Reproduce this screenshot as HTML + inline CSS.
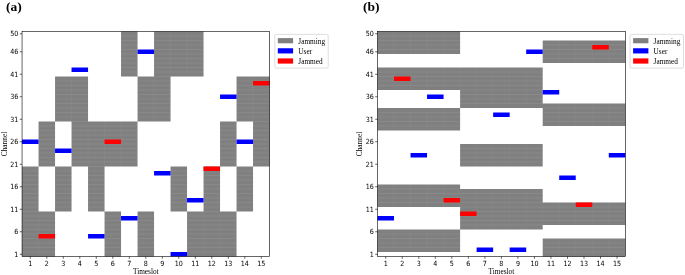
<!DOCTYPE html>
<html lang="en"><head><meta charset="utf-8"><title>Jamming patterns</title>
<style>html,body{margin:0;padding:0;background:#fff}body{width:685px;height:275px;overflow:hidden}svg{display:block}.t{font-family:"DejaVu Sans","Liberation Sans",sans-serif;font-stretch:condensed;font-size:7.1px;fill:#000}.s{font-family:"Liberation Serif","DejaVu Serif",serif;font-size:7.3px;fill:#000}.g{font-family:"Liberation Serif","DejaVu Serif",serif;font-size:7.3px;fill:#000}.h{font-family:"Liberation Serif","DejaVu Serif",serif;font-size:13.5px;font-weight:bold;fill:#000}</style></head><body>
<svg width="685" height="275" viewBox="0 0 685 275">
<rect width="685" height="275" fill="#fff"/>
<g>
<text class="h" x="6" y="10.6">(a)</text>
<path fill="#808080" d="M22.05 166.5H38.55V256.5H22.05ZM38.55 211.5H55.05V256.5H38.55ZM38.55 121.5H55.05V166.5H38.55ZM55.05 166.5H71.55V211.5H55.05ZM55.05 76.5H71.55V121.5H55.05ZM71.55 76.5H88.05V166.5H71.55ZM88.05 121.5H104.55V211.5H88.05ZM104.55 211.5H121.05V256.5H104.55ZM104.55 121.5H121.05V166.5H104.55ZM121.05 121.5H137.55V166.5H121.05ZM121.05 31.5H137.55V76.5H121.05ZM137.55 211.5H154.05V256.5H137.55ZM137.55 76.5H154.05V121.5H137.55ZM154.05 31.5H170.55V121.5H154.05ZM170.55 166.5H187.05V211.5H170.55ZM170.55 31.5H187.05V76.5H170.55ZM187.05 211.5H203.55V256.5H187.05ZM187.05 31.5H203.55V76.5H187.05ZM203.55 166.5H220.05V256.5H203.55ZM220.05 211.5H236.55V256.5H220.05ZM220.05 121.5H236.55V166.5H220.05ZM236.55 166.5H253.05V211.5H236.55ZM236.55 76.5H253.05V121.5H236.55ZM253.05 76.5H269.55V166.5H253.05Z"/>
<path fill="none" stroke="#fff" stroke-opacity="0.11" stroke-width="0.7" d="M22.05 252H38.55M22.05 247.5H38.55M22.05 243H38.55M22.05 238.5H38.55M22.05 234H38.55M22.05 229.5H38.55M22.05 225H38.55M22.05 220.5H38.55M22.05 216H38.55M22.05 211.5H38.55M22.05 207H38.55M22.05 202.5H38.55M22.05 198H38.55M22.05 193.5H38.55M22.05 189H38.55M22.05 184.5H38.55M22.05 180H38.55M22.05 175.5H38.55M22.05 171H38.55M38.55 252H55.05M38.55 247.5H55.05M38.55 243H55.05M38.55 238.5H55.05M38.55 234H55.05M38.55 229.5H55.05M38.55 225H55.05M38.55 220.5H55.05M38.55 216H55.05M38.55 162H55.05M38.55 157.5H55.05M38.55 153H55.05M38.55 148.5H55.05M38.55 144H55.05M38.55 139.5H55.05M38.55 135H55.05M38.55 130.5H55.05M38.55 126H55.05M55.05 207H71.55M55.05 202.5H71.55M55.05 198H71.55M55.05 193.5H71.55M55.05 189H71.55M55.05 184.5H71.55M55.05 180H71.55M55.05 175.5H71.55M55.05 171H71.55M55.05 117H71.55M55.05 112.5H71.55M55.05 108H71.55M55.05 103.5H71.55M55.05 99H71.55M55.05 94.5H71.55M55.05 90H71.55M55.05 85.5H71.55M55.05 81H71.55M71.55 162H88.05M71.55 157.5H88.05M71.55 153H88.05M71.55 148.5H88.05M71.55 144H88.05M71.55 139.5H88.05M71.55 135H88.05M71.55 130.5H88.05M71.55 126H88.05M71.55 121.5H88.05M71.55 117H88.05M71.55 112.5H88.05M71.55 108H88.05M71.55 103.5H88.05M71.55 99H88.05M71.55 94.5H88.05M71.55 90H88.05M71.55 85.5H88.05M71.55 81H88.05M88.05 207H104.55M88.05 202.5H104.55M88.05 198H104.55M88.05 193.5H104.55M88.05 189H104.55M88.05 184.5H104.55M88.05 180H104.55M88.05 175.5H104.55M88.05 171H104.55M88.05 166.5H104.55M88.05 162H104.55M88.05 157.5H104.55M88.05 153H104.55M88.05 148.5H104.55M88.05 144H104.55M88.05 139.5H104.55M88.05 135H104.55M88.05 130.5H104.55M88.05 126H104.55M104.55 252H121.05M104.55 247.5H121.05M104.55 243H121.05M104.55 238.5H121.05M104.55 234H121.05M104.55 229.5H121.05M104.55 225H121.05M104.55 220.5H121.05M104.55 216H121.05M104.55 162H121.05M104.55 157.5H121.05M104.55 153H121.05M104.55 148.5H121.05M104.55 144H121.05M104.55 139.5H121.05M104.55 135H121.05M104.55 130.5H121.05M104.55 126H121.05M121.05 162H137.55M121.05 157.5H137.55M121.05 153H137.55M121.05 148.5H137.55M121.05 144H137.55M121.05 139.5H137.55M121.05 135H137.55M121.05 130.5H137.55M121.05 126H137.55M121.05 72H137.55M121.05 67.5H137.55M121.05 63H137.55M121.05 58.5H137.55M121.05 54H137.55M121.05 49.5H137.55M121.05 45H137.55M121.05 40.5H137.55M121.05 36H137.55M137.55 252H154.05M137.55 247.5H154.05M137.55 243H154.05M137.55 238.5H154.05M137.55 234H154.05M137.55 229.5H154.05M137.55 225H154.05M137.55 220.5H154.05M137.55 216H154.05M137.55 117H154.05M137.55 112.5H154.05M137.55 108H154.05M137.55 103.5H154.05M137.55 99H154.05M137.55 94.5H154.05M137.55 90H154.05M137.55 85.5H154.05M137.55 81H154.05M154.05 117H170.55M154.05 112.5H170.55M154.05 108H170.55M154.05 103.5H170.55M154.05 99H170.55M154.05 94.5H170.55M154.05 90H170.55M154.05 85.5H170.55M154.05 81H170.55M154.05 76.5H170.55M154.05 72H170.55M154.05 67.5H170.55M154.05 63H170.55M154.05 58.5H170.55M154.05 54H170.55M154.05 49.5H170.55M154.05 45H170.55M154.05 40.5H170.55M154.05 36H170.55M170.55 207H187.05M170.55 202.5H187.05M170.55 198H187.05M170.55 193.5H187.05M170.55 189H187.05M170.55 184.5H187.05M170.55 180H187.05M170.55 175.5H187.05M170.55 171H187.05M170.55 72H187.05M170.55 67.5H187.05M170.55 63H187.05M170.55 58.5H187.05M170.55 54H187.05M170.55 49.5H187.05M170.55 45H187.05M170.55 40.5H187.05M170.55 36H187.05M187.05 252H203.55M187.05 247.5H203.55M187.05 243H203.55M187.05 238.5H203.55M187.05 234H203.55M187.05 229.5H203.55M187.05 225H203.55M187.05 220.5H203.55M187.05 216H203.55M187.05 72H203.55M187.05 67.5H203.55M187.05 63H203.55M187.05 58.5H203.55M187.05 54H203.55M187.05 49.5H203.55M187.05 45H203.55M187.05 40.5H203.55M187.05 36H203.55M203.55 252H220.05M203.55 247.5H220.05M203.55 243H220.05M203.55 238.5H220.05M203.55 234H220.05M203.55 229.5H220.05M203.55 225H220.05M203.55 220.5H220.05M203.55 216H220.05M203.55 211.5H220.05M203.55 207H220.05M203.55 202.5H220.05M203.55 198H220.05M203.55 193.5H220.05M203.55 189H220.05M203.55 184.5H220.05M203.55 180H220.05M203.55 175.5H220.05M203.55 171H220.05M220.05 252H236.55M220.05 247.5H236.55M220.05 243H236.55M220.05 238.5H236.55M220.05 234H236.55M220.05 229.5H236.55M220.05 225H236.55M220.05 220.5H236.55M220.05 216H236.55M220.05 162H236.55M220.05 157.5H236.55M220.05 153H236.55M220.05 148.5H236.55M220.05 144H236.55M220.05 139.5H236.55M220.05 135H236.55M220.05 130.5H236.55M220.05 126H236.55M236.55 207H253.05M236.55 202.5H253.05M236.55 198H253.05M236.55 193.5H253.05M236.55 189H253.05M236.55 184.5H253.05M236.55 180H253.05M236.55 175.5H253.05M236.55 171H253.05M236.55 117H253.05M236.55 112.5H253.05M236.55 108H253.05M236.55 103.5H253.05M236.55 99H253.05M236.55 94.5H253.05M236.55 90H253.05M236.55 85.5H253.05M236.55 81H253.05M253.05 162H269.55M253.05 157.5H269.55M253.05 153H269.55M253.05 148.5H269.55M253.05 144H269.55M253.05 139.5H269.55M253.05 135H269.55M253.05 130.5H269.55M253.05 126H269.55M253.05 121.5H269.55M253.05 117H269.55M253.05 112.5H269.55M253.05 108H269.55M253.05 103.5H269.55M253.05 99H269.55M253.05 94.5H269.55M253.05 90H269.55M253.05 85.5H269.55M253.05 81H269.55"/>
<path fill="none" stroke="#fff" stroke-opacity="0.05" stroke-width="0.7" d="M38.55 211.5V256.5M71.55 76.5V121.5M88.05 121.5V166.5M104.55 121.5V166.5M121.05 121.5V166.5M154.05 76.5V121.5M170.55 31.5V76.5M187.05 31.5V76.5M203.55 211.5V256.5M220.05 211.5V256.5M253.05 76.5V121.5"/>
<rect x="22.05" y="139.5" width="16.5" height="4.5" fill="#0000ff"/>
<rect x="38.55" y="234" width="16.5" height="4.5" fill="#ff0000"/>
<rect x="55.05" y="148.5" width="16.5" height="4.5" fill="#0000ff"/>
<rect x="71.55" y="67.5" width="16.5" height="4.5" fill="#0000ff"/>
<rect x="88.05" y="234" width="16.5" height="4.5" fill="#0000ff"/>
<rect x="104.55" y="139.5" width="16.5" height="4.5" fill="#ff0000"/>
<rect x="121.05" y="216" width="16.5" height="4.5" fill="#0000ff"/>
<rect x="137.55" y="49.5" width="16.5" height="4.5" fill="#0000ff"/>
<rect x="154.05" y="171" width="16.5" height="4.5" fill="#0000ff"/>
<rect x="170.55" y="252" width="16.5" height="4.5" fill="#0000ff"/>
<rect x="187.05" y="198" width="16.5" height="4.5" fill="#0000ff"/>
<rect x="203.55" y="166.5" width="16.5" height="4.5" fill="#ff0000"/>
<rect x="220.05" y="94.5" width="16.5" height="4.5" fill="#0000ff"/>
<rect x="236.55" y="139.5" width="16.5" height="4.5" fill="#0000ff"/>
<rect x="253.05" y="81" width="16.5" height="4.5" fill="#ff0000"/>
<rect x="22.05" y="31.5" width="247.5" height="225" fill="none" stroke="#000" stroke-width="0.6"/>
<path d="M30.3 256.5v2.3M46.8 256.5v2.3M63.3 256.5v2.3M79.8 256.5v2.3M96.3 256.5v2.3M112.8 256.5v2.3M129.3 256.5v2.3M145.8 256.5v2.3M162.3 256.5v2.3M178.8 256.5v2.3M195.3 256.5v2.3M211.8 256.5v2.3M228.3 256.5v2.3M244.8 256.5v2.3M261.3 256.5v2.3M22.05 254.25h-2.3M22.05 231.75h-2.3M22.05 209.25h-2.3M22.05 186.75h-2.3M22.05 164.25h-2.3M22.05 141.75h-2.3M22.05 119.25h-2.3M22.05 96.75h-2.3M22.05 74.25h-2.3M22.05 51.75h-2.3M22.05 33.75h-2.3" stroke="#000" stroke-width="0.6" fill="none"/>
<g class="t" text-anchor="middle">
<text x="30.3" y="266.1">1</text>
<text x="46.8" y="266.1">2</text>
<text x="63.3" y="266.1">3</text>
<text x="79.8" y="266.1">4</text>
<text x="96.3" y="266.1">5</text>
<text x="112.8" y="266.1">6</text>
<text x="129.3" y="266.1">7</text>
<text x="145.8" y="266.1">8</text>
<text x="162.3" y="266.1">9</text>
<text x="178.8" y="266.1">10</text>
<text x="195.3" y="266.1">11</text>
<text x="211.8" y="266.1">12</text>
<text x="228.3" y="266.1">13</text>
<text x="244.8" y="266.1">14</text>
<text x="261.3" y="266.1">15</text>
</g>
<g class="t" text-anchor="end">
<text x="18.35" y="256.9">1</text>
<text x="18.35" y="234.4">6</text>
<text x="18.35" y="211.9">11</text>
<text x="18.35" y="189.4">16</text>
<text x="18.35" y="166.9">21</text>
<text x="18.35" y="144.4">26</text>
<text x="18.35" y="121.9">31</text>
<text x="18.35" y="99.4">36</text>
<text x="18.35" y="76.9">41</text>
<text x="18.35" y="54.4">46</text>
<text x="18.35" y="36.4">50</text>
</g>
<text class="s" text-anchor="middle" x="145.8" y="274.2">Timeslot</text>
<text class="s" text-anchor="middle" transform="translate(6.75 144) rotate(-90)">Channel</text>
<rect x="274.8" y="34.4" width="53.4" height="33.7" rx="1.5" ry="1.5" fill="#fff" stroke="#ccc" stroke-width="0.65"/>
<rect x="277.8" y="38.1" width="15.3" height="5.2" fill="#808080"/>
<text class="g" x="298.3" y="43.6">Jamming</text>
<rect x="277.8" y="48.25" width="15.3" height="5.2" fill="#0000ff"/>
<text class="g" x="298.3" y="53.75">User</text>
<rect x="277.8" y="58.4" width="15.3" height="5.2" fill="#ff0000"/>
<text class="g" x="298.3" y="63.9">Jammed</text>
</g>
<g>
<text class="h" x="363" y="10.6">(b)</text>
<path fill="#808080" d="M377.5 31.5H394.02V54H377.5ZM377.5 67.5H394.02V90H377.5ZM377.5 108H394.02V130.5H377.5ZM377.5 184.5H394.02V207H377.5ZM377.5 229.5H394.02V252H377.5ZM394.02 31.5H410.54V54H394.02ZM394.02 67.5H410.54V90H394.02ZM394.02 108H410.54V130.5H394.02ZM394.02 184.5H410.54V207H394.02ZM394.02 229.5H410.54V252H394.02ZM410.54 31.5H427.06V54H410.54ZM410.54 67.5H427.06V90H410.54ZM410.54 108H427.06V130.5H410.54ZM410.54 184.5H427.06V207H410.54ZM410.54 229.5H427.06V252H410.54ZM427.06 31.5H443.58V54H427.06ZM427.06 67.5H443.58V90H427.06ZM427.06 108H443.58V130.5H427.06ZM427.06 184.5H443.58V207H427.06ZM427.06 229.5H443.58V252H427.06ZM443.58 31.5H460.1V54H443.58ZM443.58 67.5H460.1V90H443.58ZM443.58 108H460.1V130.5H443.58ZM443.58 184.5H460.1V207H443.58ZM443.58 229.5H460.1V252H443.58ZM460.1 67.5H476.62V108H460.1ZM460.1 144H476.62V166.5H460.1ZM460.1 189H476.62V229.5H460.1ZM476.62 67.5H493.14V108H476.62ZM476.62 144H493.14V166.5H476.62ZM476.62 189H493.14V229.5H476.62ZM493.14 67.5H509.66V108H493.14ZM493.14 144H509.66V166.5H493.14ZM493.14 189H509.66V229.5H493.14ZM509.66 67.5H526.18V108H509.66ZM509.66 144H526.18V166.5H509.66ZM509.66 189H526.18V229.5H509.66ZM526.18 67.5H542.7V108H526.18ZM526.18 144H542.7V166.5H526.18ZM526.18 189H542.7V229.5H526.18ZM542.7 40.5H559.22V63H542.7ZM542.7 103.5H559.22V126H542.7ZM542.7 202.5H559.22V225H542.7ZM542.7 238.5H559.22V256.5H542.7ZM559.22 40.5H575.74V63H559.22ZM559.22 103.5H575.74V126H559.22ZM559.22 202.5H575.74V225H559.22ZM559.22 238.5H575.74V256.5H559.22ZM575.74 40.5H592.26V63H575.74ZM575.74 103.5H592.26V126H575.74ZM575.74 202.5H592.26V225H575.74ZM575.74 238.5H592.26V256.5H575.74ZM592.26 40.5H608.78V63H592.26ZM592.26 103.5H608.78V126H592.26ZM592.26 202.5H608.78V225H592.26ZM592.26 238.5H608.78V256.5H592.26ZM608.78 40.5H625.3V63H608.78ZM608.78 103.5H625.3V126H608.78ZM608.78 202.5H625.3V225H608.78ZM608.78 238.5H625.3V256.5H608.78Z"/>
<path fill="none" stroke="#fff" stroke-opacity="0.11" stroke-width="0.7" d="M377.5 49.5H394.02M377.5 45H394.02M377.5 40.5H394.02M377.5 36H394.02M377.5 85.5H394.02M377.5 81H394.02M377.5 76.5H394.02M377.5 72H394.02M377.5 126H394.02M377.5 121.5H394.02M377.5 117H394.02M377.5 112.5H394.02M377.5 202.5H394.02M377.5 198H394.02M377.5 193.5H394.02M377.5 189H394.02M377.5 247.5H394.02M377.5 243H394.02M377.5 238.5H394.02M377.5 234H394.02M394.02 49.5H410.54M394.02 45H410.54M394.02 40.5H410.54M394.02 36H410.54M394.02 85.5H410.54M394.02 81H410.54M394.02 76.5H410.54M394.02 72H410.54M394.02 126H410.54M394.02 121.5H410.54M394.02 117H410.54M394.02 112.5H410.54M394.02 202.5H410.54M394.02 198H410.54M394.02 193.5H410.54M394.02 189H410.54M394.02 247.5H410.54M394.02 243H410.54M394.02 238.5H410.54M394.02 234H410.54M410.54 49.5H427.06M410.54 45H427.06M410.54 40.5H427.06M410.54 36H427.06M410.54 85.5H427.06M410.54 81H427.06M410.54 76.5H427.06M410.54 72H427.06M410.54 126H427.06M410.54 121.5H427.06M410.54 117H427.06M410.54 112.5H427.06M410.54 202.5H427.06M410.54 198H427.06M410.54 193.5H427.06M410.54 189H427.06M410.54 247.5H427.06M410.54 243H427.06M410.54 238.5H427.06M410.54 234H427.06M427.06 49.5H443.58M427.06 45H443.58M427.06 40.5H443.58M427.06 36H443.58M427.06 85.5H443.58M427.06 81H443.58M427.06 76.5H443.58M427.06 72H443.58M427.06 126H443.58M427.06 121.5H443.58M427.06 117H443.58M427.06 112.5H443.58M427.06 202.5H443.58M427.06 198H443.58M427.06 193.5H443.58M427.06 189H443.58M427.06 247.5H443.58M427.06 243H443.58M427.06 238.5H443.58M427.06 234H443.58M443.58 49.5H460.1M443.58 45H460.1M443.58 40.5H460.1M443.58 36H460.1M443.58 85.5H460.1M443.58 81H460.1M443.58 76.5H460.1M443.58 72H460.1M443.58 126H460.1M443.58 121.5H460.1M443.58 117H460.1M443.58 112.5H460.1M443.58 202.5H460.1M443.58 198H460.1M443.58 193.5H460.1M443.58 189H460.1M443.58 247.5H460.1M443.58 243H460.1M443.58 238.5H460.1M443.58 234H460.1M460.1 103.5H476.62M460.1 99H476.62M460.1 94.5H476.62M460.1 90H476.62M460.1 85.5H476.62M460.1 81H476.62M460.1 76.5H476.62M460.1 72H476.62M460.1 162H476.62M460.1 157.5H476.62M460.1 153H476.62M460.1 148.5H476.62M460.1 225H476.62M460.1 220.5H476.62M460.1 216H476.62M460.1 211.5H476.62M460.1 207H476.62M460.1 202.5H476.62M460.1 198H476.62M460.1 193.5H476.62M476.62 103.5H493.14M476.62 99H493.14M476.62 94.5H493.14M476.62 90H493.14M476.62 85.5H493.14M476.62 81H493.14M476.62 76.5H493.14M476.62 72H493.14M476.62 162H493.14M476.62 157.5H493.14M476.62 153H493.14M476.62 148.5H493.14M476.62 225H493.14M476.62 220.5H493.14M476.62 216H493.14M476.62 211.5H493.14M476.62 207H493.14M476.62 202.5H493.14M476.62 198H493.14M476.62 193.5H493.14M493.14 103.5H509.66M493.14 99H509.66M493.14 94.5H509.66M493.14 90H509.66M493.14 85.5H509.66M493.14 81H509.66M493.14 76.5H509.66M493.14 72H509.66M493.14 162H509.66M493.14 157.5H509.66M493.14 153H509.66M493.14 148.5H509.66M493.14 225H509.66M493.14 220.5H509.66M493.14 216H509.66M493.14 211.5H509.66M493.14 207H509.66M493.14 202.5H509.66M493.14 198H509.66M493.14 193.5H509.66M509.66 103.5H526.18M509.66 99H526.18M509.66 94.5H526.18M509.66 90H526.18M509.66 85.5H526.18M509.66 81H526.18M509.66 76.5H526.18M509.66 72H526.18M509.66 162H526.18M509.66 157.5H526.18M509.66 153H526.18M509.66 148.5H526.18M509.66 225H526.18M509.66 220.5H526.18M509.66 216H526.18M509.66 211.5H526.18M509.66 207H526.18M509.66 202.5H526.18M509.66 198H526.18M509.66 193.5H526.18M526.18 103.5H542.7M526.18 99H542.7M526.18 94.5H542.7M526.18 90H542.7M526.18 85.5H542.7M526.18 81H542.7M526.18 76.5H542.7M526.18 72H542.7M526.18 162H542.7M526.18 157.5H542.7M526.18 153H542.7M526.18 148.5H542.7M526.18 225H542.7M526.18 220.5H542.7M526.18 216H542.7M526.18 211.5H542.7M526.18 207H542.7M526.18 202.5H542.7M526.18 198H542.7M526.18 193.5H542.7M542.7 58.5H559.22M542.7 54H559.22M542.7 49.5H559.22M542.7 45H559.22M542.7 121.5H559.22M542.7 117H559.22M542.7 112.5H559.22M542.7 108H559.22M542.7 220.5H559.22M542.7 216H559.22M542.7 211.5H559.22M542.7 207H559.22M542.7 252H559.22M542.7 247.5H559.22M542.7 243H559.22M559.22 58.5H575.74M559.22 54H575.74M559.22 49.5H575.74M559.22 45H575.74M559.22 121.5H575.74M559.22 117H575.74M559.22 112.5H575.74M559.22 108H575.74M559.22 220.5H575.74M559.22 216H575.74M559.22 211.5H575.74M559.22 207H575.74M559.22 252H575.74M559.22 247.5H575.74M559.22 243H575.74M575.74 58.5H592.26M575.74 54H592.26M575.74 49.5H592.26M575.74 45H592.26M575.74 121.5H592.26M575.74 117H592.26M575.74 112.5H592.26M575.74 108H592.26M575.74 220.5H592.26M575.74 216H592.26M575.74 211.5H592.26M575.74 207H592.26M575.74 252H592.26M575.74 247.5H592.26M575.74 243H592.26M592.26 58.5H608.78M592.26 54H608.78M592.26 49.5H608.78M592.26 45H608.78M592.26 121.5H608.78M592.26 117H608.78M592.26 112.5H608.78M592.26 108H608.78M592.26 220.5H608.78M592.26 216H608.78M592.26 211.5H608.78M592.26 207H608.78M592.26 252H608.78M592.26 247.5H608.78M592.26 243H608.78M608.78 58.5H625.3M608.78 54H625.3M608.78 49.5H625.3M608.78 45H625.3M608.78 121.5H625.3M608.78 117H625.3M608.78 112.5H625.3M608.78 108H625.3M608.78 220.5H625.3M608.78 216H625.3M608.78 211.5H625.3M608.78 207H625.3M608.78 252H625.3M608.78 247.5H625.3M608.78 243H625.3"/>
<path fill="none" stroke="#fff" stroke-opacity="0.05" stroke-width="0.7" d="M394.02 31.5V54M394.02 67.5V90M394.02 108V130.5M394.02 184.5V207M394.02 229.5V252M410.54 31.5V54M410.54 67.5V90M410.54 108V130.5M410.54 184.5V207M410.54 229.5V252M427.06 31.5V54M427.06 67.5V90M427.06 108V130.5M427.06 184.5V207M427.06 229.5V252M443.58 31.5V54M443.58 67.5V90M443.58 108V130.5M443.58 184.5V207M443.58 229.5V252M460.1 67.5V90M460.1 189V207M476.62 67.5V108M476.62 144V166.5M476.62 189V229.5M493.14 67.5V108M493.14 144V166.5M493.14 189V229.5M509.66 67.5V108M509.66 144V166.5M509.66 189V229.5M526.18 67.5V108M526.18 144V166.5M526.18 189V229.5M542.7 103.5V108M542.7 202.5V225M559.22 40.5V63M559.22 103.5V126M559.22 202.5V225M559.22 238.5V256.5M575.74 40.5V63M575.74 103.5V126M575.74 202.5V225M575.74 238.5V256.5M592.26 40.5V63M592.26 103.5V126M592.26 202.5V225M592.26 238.5V256.5M608.78 40.5V63M608.78 103.5V126M608.78 202.5V225M608.78 238.5V256.5"/>
<rect x="377.5" y="216" width="16.52" height="4.5" fill="#0000ff"/>
<rect x="394.02" y="76.5" width="16.52" height="4.5" fill="#ff0000"/>
<rect x="410.54" y="153" width="16.52" height="4.5" fill="#0000ff"/>
<rect x="427.06" y="94.5" width="16.52" height="4.5" fill="#0000ff"/>
<rect x="443.58" y="198" width="16.52" height="4.5" fill="#ff0000"/>
<rect x="460.1" y="211.5" width="16.52" height="4.5" fill="#ff0000"/>
<rect x="476.62" y="247.5" width="16.52" height="4.5" fill="#0000ff"/>
<rect x="493.14" y="112.5" width="16.52" height="4.5" fill="#0000ff"/>
<rect x="509.66" y="247.5" width="16.52" height="4.5" fill="#0000ff"/>
<rect x="526.18" y="49.5" width="16.52" height="4.5" fill="#0000ff"/>
<rect x="542.7" y="90" width="16.52" height="4.5" fill="#0000ff"/>
<rect x="559.22" y="175.5" width="16.52" height="4.5" fill="#0000ff"/>
<rect x="575.74" y="202.5" width="16.52" height="4.5" fill="#ff0000"/>
<rect x="592.26" y="45" width="16.52" height="4.5" fill="#ff0000"/>
<rect x="608.78" y="153" width="16.52" height="4.5" fill="#0000ff"/>
<rect x="377.5" y="31.5" width="247.8" height="225" fill="none" stroke="#000" stroke-width="0.6"/>
<path d="M385.76 256.5v2.3M402.28 256.5v2.3M418.8 256.5v2.3M435.32 256.5v2.3M451.84 256.5v2.3M468.36 256.5v2.3M484.88 256.5v2.3M501.4 256.5v2.3M517.92 256.5v2.3M534.44 256.5v2.3M550.96 256.5v2.3M567.48 256.5v2.3M584 256.5v2.3M600.52 256.5v2.3M617.04 256.5v2.3M377.5 254.25h-2.3M377.5 231.75h-2.3M377.5 209.25h-2.3M377.5 186.75h-2.3M377.5 164.25h-2.3M377.5 141.75h-2.3M377.5 119.25h-2.3M377.5 96.75h-2.3M377.5 74.25h-2.3M377.5 51.75h-2.3M377.5 33.75h-2.3" stroke="#000" stroke-width="0.6" fill="none"/>
<g class="t" text-anchor="middle">
<text x="385.76" y="266.1">1</text>
<text x="402.28" y="266.1">2</text>
<text x="418.8" y="266.1">3</text>
<text x="435.32" y="266.1">4</text>
<text x="451.84" y="266.1">5</text>
<text x="468.36" y="266.1">6</text>
<text x="484.88" y="266.1">7</text>
<text x="501.4" y="266.1">8</text>
<text x="517.92" y="266.1">9</text>
<text x="534.44" y="266.1">10</text>
<text x="550.96" y="266.1">11</text>
<text x="567.48" y="266.1">12</text>
<text x="584" y="266.1">13</text>
<text x="600.52" y="266.1">14</text>
<text x="617.04" y="266.1">15</text>
</g>
<g class="t" text-anchor="end">
<text x="373.8" y="256.9">1</text>
<text x="373.8" y="234.4">6</text>
<text x="373.8" y="211.9">11</text>
<text x="373.8" y="189.4">16</text>
<text x="373.8" y="166.9">21</text>
<text x="373.8" y="144.4">26</text>
<text x="373.8" y="121.9">31</text>
<text x="373.8" y="99.4">36</text>
<text x="373.8" y="76.9">41</text>
<text x="373.8" y="54.4">46</text>
<text x="373.8" y="36.4">50</text>
</g>
<text class="s" text-anchor="middle" x="501.4" y="274.2">Timeslot</text>
<text class="s" text-anchor="middle" transform="translate(362.2 144) rotate(-90)">Channel</text>
<rect x="630.1" y="34.4" width="53.4" height="33.7" rx="1.5" ry="1.5" fill="#fff" stroke="#ccc" stroke-width="0.65"/>
<rect x="633.1" y="38.1" width="15.3" height="5.2" fill="#808080"/>
<text class="g" x="653.6" y="43.6">Jamming</text>
<rect x="633.1" y="48.25" width="15.3" height="5.2" fill="#0000ff"/>
<text class="g" x="653.6" y="53.75">User</text>
<rect x="633.1" y="58.4" width="15.3" height="5.2" fill="#ff0000"/>
<text class="g" x="653.6" y="63.9">Jammed</text>
</g>
</svg></body></html>
